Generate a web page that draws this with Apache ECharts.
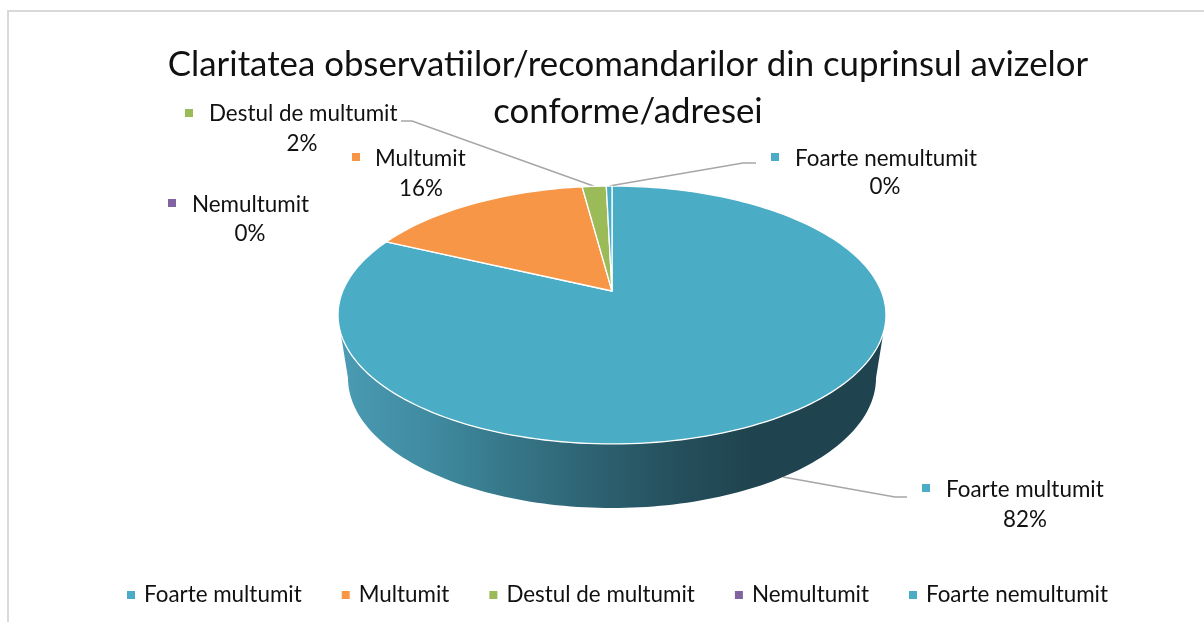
<!DOCTYPE html>
<html>
<head>
<meta charset="utf-8">
<style>html,body{margin:0;padding:0;background:#fff}#c{width:1204px;height:622px}</style>
<script src="https://cdn.jsdelivr.net/npm/echarts@6/dist/echarts.min.js"></script>
</head>
<body>
<div id="c"></div>
<script>
// ---- data ----
const titleLines = ['Claritatea observatiilor/recomandarilor din cuprinsul avizelor', 'conforme/adresei'];
const categories = ['Foarte multumit', 'Multumit', 'Destul de multumit', 'Nemultumit', 'Foarte nemultumit'];
const values = [82.0, 15.9, 1.7, 0, 0.4];

// ---- styles and layout ----
const FONT = 'Lato';
const colors = ['#4bacc6', '#f79646', '#9bbb59', '#8064a2', '#4bacc6'];
const labelLayout = [
  {mx: 926, my: 488, tx: 946, ty: 490, cx: 1025, vy: 520, leader: [[895, 497], [907, 497]], under: true},
  {mx: 356, my: 157, tx: 375, ty: 159, cx: 421, vy: 189, leader: null},
  {mx: 189, my: 113, tx: 209, ty: 114, cx: 302, vy: 144, leader: [[412, 121], [401, 121]]},
  {mx: 172, my: 203, tx: 192, ty: 205, cx: 250, vy: 234, leader: null},
  {mx: 775, my: 157, tx: 795, ty: 159, cx: 885, vy: 187, leader: [[743, 163], [756, 163]]}
];
// perspective projection of the pie disc
const P = {ax: 612, ay: 291, A: 269.2, B: 124.5, a: -0.186};
const BOTTOM = {cx: 612, cy: 378, rx: 264, ry: 130};
const WALL_FROM = 108.5, WALL_TO = 251.5;

function project(deg) {
  const t = deg * Math.PI / 180, u = Math.sin(t), v = -Math.cos(t), w = 1 + P.a * v;
  return [P.ax + P.A * u / w, P.ay + P.B * v / w];
}
function arc(from, to) {
  const pts = [], n = Math.max(2, Math.ceil(Math.abs(to - from) / 1.5));
  for (let i = 0; i <= n; i++) pts.push(project(from + (to - from) * i / n));
  return pts;
}
function bottomArc(fromPhi, toPhi) {
  const pts = [];
  for (let i = 0; i <= 120; i++) {
    const p = (fromPhi + (toPhi - fromPhi) * i / 120) * Math.PI / 180;
    pts.push([BOTTOM.cx + BOTTOM.rx * Math.cos(p), BOTTOM.cy + BOTTOM.ry * Math.sin(p)]);
  }
  return pts;
}
function bottomAtX(x) {
  const c = (x - BOTTOM.cx) / BOTTOM.rx;
  return [x, BOTTOM.cy + BOTTOM.ry * Math.sqrt(1 - c * c)];
}
const total = values.reduce((a, b) => a + b, 0);

function makeRender(idx) {
  return function (params, api) {
    const val = api.value(0);
    let before = 0;
    for (let i = 0; i < idx; i++) before += values[i];
    const start = before / total * 360, end = (before + val) / total * 360, mid = (start + end) / 2;
    const color = colors[idx], L = labelLayout[idx], children = [];

    if (L.leader) {
      const rim = project(mid);
      const first = L.under ? bottomAtX(rim[0]) : rim;
      children.push({type: 'polyline', shape: {points: [first].concat(L.leader)},
        style: {fill: null, stroke: '#a6a6a6', lineWidth: 1.5}});
    }
    // outer wall, only the part of the slice that faces the viewer
    const wFrom = Math.max(start, WALL_FROM), wTo = Math.min(end, WALL_TO);
    if (wTo > wFrom) {
      const pts = arc(wFrom, wTo).concat(bottomArc(180, 0));
      children.push({type: 'polygon', shape: {points: pts}, style: {
        fill: {type: 'linear', x: 0, y: 0, x2: 1, y2: 0, colorStops: [
          {offset: 0, color: '#4a9bb4'}, {offset: 0.17, color: '#3f8a9f'},
          {offset: 0.3, color: '#37788b'}, {offset: 0.45, color: '#2e6474'},
          {offset: 0.62, color: '#254f5c'}, {offset: 0.76, color: '#1f444f'},
          {offset: 1, color: '#1f444f'}]}
      }});
    }
    // top face
    if (val > 0) {
      children.push({type: 'polygon',
        shape: {points: [[P.ax, P.ay]].concat(arc(start, end))},
        style: {fill: color, stroke: '#fff', lineWidth: 1.3, lineJoin: 'round'}});
    }
    // data label
    const textStyle = {fontFamily: FONT, fontSize: 22.4, fill: '#111'};
    children.push({type: 'rect', shape: {x: L.mx - 4, y: L.my - 4, width: 8, height: 8}, style: {fill: color}});
    children.push({type: 'text', style: Object.assign({x: L.tx, y: L.ty, text: categories[idx], align: 'left', verticalAlign: 'middle'}, textStyle)});
    children.push({type: 'text', style: Object.assign({x: L.cx, y: L.vy, text: Math.round(val / total * 100) + '%', align: 'center', verticalAlign: 'middle'}, textStyle)});
    return {type: 'group', children};
  };
}

const chart = echarts.init(document.getElementById('c'), null, {renderer: 'canvas'});
chart.setOption({
  animation: false,
  backgroundColor: '#fff',
  title: {
    text: titleLines.join('\n'), left: 623, top: 36, textAlign: 'center',
    textStyle: {fontFamily: FONT, fontSize: 34.8, fontWeight: 'normal', color: '#111', lineHeight: 47}
  },
  legend: {
    data: categories.map((name, i) => ({name: name})),
    left: 122, top: 579, icon: 'rect', itemWidth: 8, itemHeight: 8, itemGap: 40,
    selectedMode: false,
    textStyle: {fontFamily: FONT, fontSize: 22.4, color: '#111', padding: [0, 0, 0, 4]}
  },
  graphic: [
    {type: 'polyline', silent: true, shape: {points: [[8, 622], [8, 11], [1204, 11]]},
     style: {fill: null, stroke: '#d9d9d9', lineWidth: 2}}
  ],
  series: categories.map((name, i) => ({
    type: 'custom', name: name, coordinateSystem: 'none', silent: true,
    itemStyle: {color: colors[i]},
    data: [[values[i]]],
    renderItem: makeRender(i)
  }))
});
</script>
</body>
</html>
